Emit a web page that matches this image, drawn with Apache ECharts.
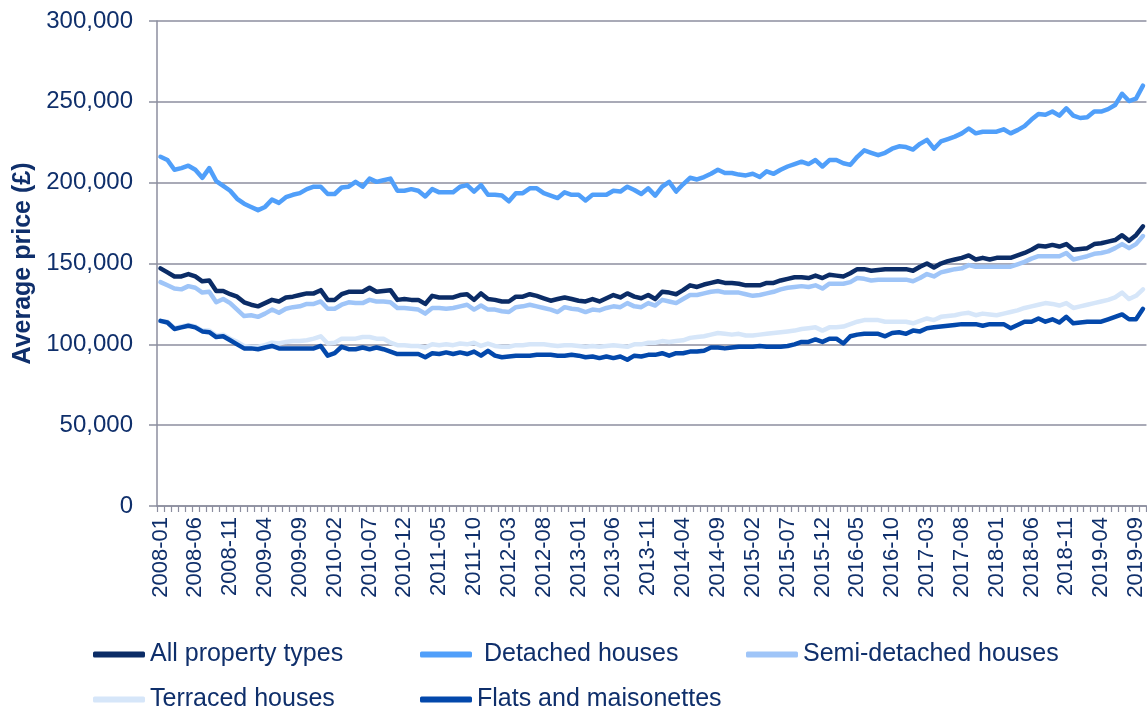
<!DOCTYPE html>
<html>
<head>
<meta charset="utf-8">
<script src="https://cdn.jsdelivr.net/npm/echarts@6/dist/echarts.min.js"></script>
<style>
  html, body { margin: 0; padding: 0; background: #ffffff; }
  #chart { width: 1147px; height: 713px; }
</style>
</head>
<body>
<div id="chart"></div>
<script>
// Monthly average prices (£), January 2008 to October 2019
const months = [];
for (let y = 2008; y <= 2019; y++) {
  for (let m = 1; m <= 12; m++) {
    if (y === 2019 && m > 10) break;
    months.push(y + '-' + (m < 10 ? '0' + m : m));
  }
}

const allPropertyTypes = [
  147000,144500,142000,142000,143500,142000,139000,139500,133000,133000,131000,129500,
  126000,124500,123500,125500,127500,126500,129000,129500,130500,131500,131500,133500,
  127500,127500,131000,132500,132500,132500,135000,132500,133000,133500,127500,128000,
  127500,127500,125000,130000,129000,129000,129000,130500,131000,127500,131500,128000,
  127500,126500,126500,129500,129500,131000,130000,128500,127000,128000,129000,128000,
  127000,126500,128000,126500,128500,130500,129000,131500,129500,128500,130500,128000,
  132500,132000,131000,133500,136500,135500,137000,138000,139000,138000,138000,137500,
  136500,136500,136500,138000,138000,139500,140500,141500,141500,141000,142500,141000,
  143000,142500,142000,144000,146500,146500,145500,146000,146500,146500,146500,146500,
  145500,148000,150000,147500,150000,151500,152500,153500,155000,152500,153500,152500,
  153500,153500,153500,155000,156500,158500,161000,160500,161500,160500,162000,158500,
  159000,159500,162000,162500,163500,164500,167500,164000,167500,173000
];

const detachedHouses = [
  216000,214000,208000,209000,210500,208000,203000,209000,201000,198000,195000,190000,
  187000,185000,183000,185000,189500,187500,191000,192500,193500,196000,197500,197500,
  193000,193000,197000,197500,200500,197500,202500,200500,201500,202500,195000,195000,
  196000,195000,191500,196000,194000,194000,194000,197500,198500,194500,198500,192500,
  192500,192000,188500,193500,193500,196500,196500,193500,192000,190500,194000,192500,
  192500,189000,192500,192500,192500,195000,194500,197500,195500,193000,196500,192000,
  197500,200500,194500,199000,203000,202000,203500,205500,208000,206000,206000,205000,
  204500,205500,203500,207000,205500,208000,210000,211500,213000,211500,214000,210000,
  214000,214000,212000,211000,216000,220000,218500,217000,218500,221000,222500,222000,
  220500,224000,226500,221000,225500,227000,228500,230500,233500,230500,231500,231500,
  231500,233000,230500,232500,235000,239000,242500,242000,244000,241500,246000,241500,
  240000,240500,244000,244000,245500,248000,255000,250500,252000,260000
];

const semiDetachedHouses = [
  138500,136500,134500,134000,136000,135000,132000,132500,126000,128000,125500,121500,
  117500,118000,117000,119000,121500,119500,122000,123000,123500,125000,125000,126500,
  122000,122000,124500,126000,125500,125500,127500,126500,126500,126000,122500,122500,
  122000,121500,119000,122500,122500,122000,122500,123500,124500,121500,124000,121500,
  121500,120500,120000,123000,123500,124500,123500,122500,121500,120000,123000,122000,
  121500,120000,121500,121000,122500,123500,123000,125500,123500,123000,125500,124000,
  127500,126500,125500,128000,130500,130500,131500,132500,133000,132000,132000,132000,
  131000,130000,130500,131500,132500,134000,135000,135500,136000,135500,136500,134500,
  137500,137500,137500,138500,141000,140500,139500,140000,140000,140000,140000,140000,
  139000,141000,143500,142000,144500,145500,146500,147000,149000,148000,148000,148000,
  148000,148000,148000,149500,151000,153000,154500,154500,154500,154500,156500,152500,
  153500,154500,156000,156500,157500,159500,162000,159500,162000,167000
];

const terracedHouses = [
  114500,114000,110000,111000,112000,111000,108500,108500,105500,106000,103500,101500,
  99000,98500,98500,99500,101000,100500,101500,102000,102000,102500,103500,105000,
  100500,101000,103500,103500,103500,104500,104500,103500,103500,101000,99500,99500,
  99000,99000,98000,100000,99500,100000,99500,100500,100000,101000,99000,100500,
  99000,98500,98500,99500,99500,100000,100000,100000,99500,99000,99500,99500,
  99000,98500,99000,98500,99000,99500,99000,98500,100000,100000,101000,101000,
  102000,101500,102000,102500,104000,104500,105000,106000,107000,106500,106000,106500,
  105500,105500,106000,106500,107000,107500,108000,108500,109500,110000,110500,108500,
  110500,110500,111000,112500,114000,115000,115000,115000,114000,114000,114000,114000,
  113000,114500,116000,115000,117000,117500,118000,119000,119500,118000,119000,118500,
  118000,119000,120000,121000,122500,123500,124500,125500,125000,124000,125500,122500,
  123500,124500,125500,126500,127500,129000,132000,128000,130000,134000
];

const flatsAndMaisonettes = [
  114500,113500,109500,110500,111500,110500,108000,107500,104500,105000,102500,100000,
  97500,97500,97000,98000,99000,97500,97500,97500,97500,97500,97500,99000,
  93000,94500,98500,97000,97000,98000,97000,98000,97000,95500,94000,94000,
  94000,94000,92000,94500,94000,95000,94000,95000,94000,95500,93000,96000,
  93000,92000,92500,93000,93000,93000,93500,93500,93500,93000,93000,93500,
  93000,92000,92500,91500,92500,91500,92500,90500,93000,92500,93500,93500,
  94500,93000,94500,94500,95500,95500,96000,98000,98000,97500,98000,98500,
  98500,98500,99000,98500,98500,98500,99000,100000,101500,101500,103000,101500,
  103500,103500,100500,105000,106000,106500,106500,106500,105000,107000,107500,106500,
  108500,108000,110000,110500,111000,111500,112000,112500,112500,112500,111500,112500,
  112500,112500,110000,112000,114000,114000,116000,114000,115500,113500,117000,113000,
  113500,114000,114000,114000,115500,117000,118500,115500,115500,122000
];

const seriesNames = ['All property types', ' Detached houses', 'Semi-detached houses', 'Terraced houses', 'Flats and maisonettes'];
const seriesData = [allPropertyTypes, detachedHouses, semiDetachedHouses, terracedHouses, flatsAndMaisonettes];
const seriesColors = ['#0b2c66', '#509ffa', '#9fc5f8', '#d6e6f9', '#0348ab'];

const yTicks = [0, 50000, 100000, 150000, 200000, 250000, 300000];

const navy = '#0f2f6b';
const axisGrey = '#8c8e9f';
const font = '"Liberation Sans", Arial, sans-serif';

const legendSlots = [
  { left: 93, top: 642 },
  { left: 420, top: 642 },
  { left: 746, top: 642 },
  { left: 93, top: 687 },
  { left: 420, top: 687 }
];

const chart = echarts.init(document.getElementById('chart'), null, { renderer: 'canvas' });

chart.setOption({
  animation: false,
  backgroundColor: '#ffffff',
  textStyle: { fontFamily: font },
  grid: { left: 157, right: -1, top: 21, bottom: 207, containLabel: false },
  legend: seriesNames.map((name, i) => ({
    data: [name],
    left: legendSlots[i].left,
    top: legendSlots[i].top,
    padding: 0,
    icon: 'roundRect',
    itemWidth: 52,
    itemHeight: 6,
    itemGap: 0,
    selectedMode: false,
    textStyle: { color: navy, fontSize: 25, fontFamily: font, padding: [0, 0, 0, 0] }
  })),
  xAxis: {
    type: 'category',
    data: months,
    boundaryGap: true,
    axisLine: { show: true, lineStyle: { color: axisGrey, width: 1.5 } },
    axisTick: { show: true, interval: 0, length: 6, lineStyle: { color: axisGrey, width: 1.2 } },
    axisLabel: {
      interval: 4,
      rotate: 90,
      margin: 11,
      color: navy,
      fontSize: 22,
      fontFamily: font
    },
    splitLine: { show: false }
  },
  yAxis: {
    type: 'value',
    min: yTicks[0],
    max: yTicks[yTicks.length - 1],
    interval: yTicks[1] - yTicks[0],
    name: 'Average price (£)',
    nameLocation: 'middle',
    nameGap: 119,
    nameTextStyle: { color: navy, fontSize: 25, fontWeight: 'bold', fontFamily: font },
    axisLine: { show: true, lineStyle: { color: axisGrey, width: 1.5 } },
    axisTick: { show: true, length: 8, lineStyle: { color: axisGrey, width: 1.5 } },
    axisLabel: {
      margin: 24,
      color: navy,
      fontSize: 24,
      fontFamily: font,
      formatter: v => v.toLocaleString('en-GB')
    },
    splitLine: { show: true, lineStyle: { color: axisGrey, width: 1.5 } }
  },
  series: seriesNames.map((name, i) => ({
    name: name,
    type: 'line',
    data: seriesData[i],
    showSymbol: false,
    symbol: 'none',
    color: seriesColors[i],
    lineStyle: { color: seriesColors[i], width: 4.5, cap: 'round', join: 'round' },
    emphasis: { disabled: true }
  }))
});
</script>
</body>
</html>
